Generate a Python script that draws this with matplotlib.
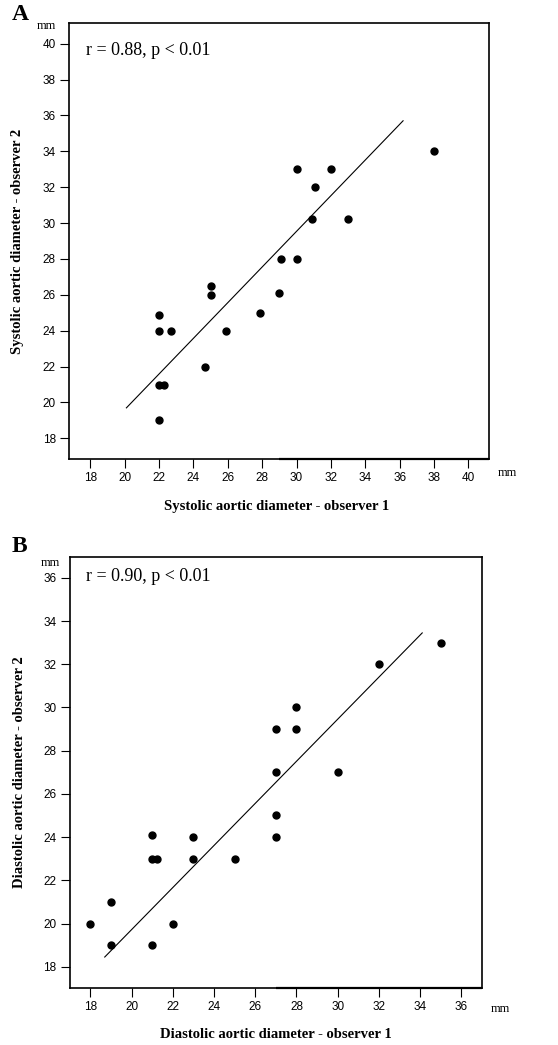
import matplotlib
matplotlib.use("Agg")
import matplotlib.pyplot as plt

# ---------------- data ----------------
sys_obs1 = [22, 22, 22.3, 22, 22, 22.7, 24.7, 25, 25, 25.9, 27.9, 29.0, 29.1, 30, 30, 31.1, 30.9, 32, 33, 38]
sys_obs2 = [19, 21, 21, 24, 24.9, 24, 22, 26, 26.5, 24, 25, 26.1, 28, 28, 33, 32, 30.2, 33, 30.2, 34]
sys_fit_x = [20.1, 36.2]
sys_fit_y = [19.7, 35.7]
sys_label = "r = 0.88, p < 0.01"
sys_ticks = [18, 20, 22, 24, 26, 28, 30, 32, 34, 36, 38, 40]

dia_obs1 = [18, 19, 19, 21, 21, 21.25, 21, 22, 23, 23, 25, 27, 27, 27, 27, 28, 28, 30, 32, 35]
dia_obs2 = [20, 21, 19, 19, 23, 23, 24.1, 20, 23, 24, 23, 24, 25, 27, 29, 29, 30, 27, 32, 33]
dia_fit_x = [18.7, 34.1]
dia_fit_y = [18.45, 33.45]
dia_label = "r = 0.90, p < 0.01"
dia_ticks = [18, 20, 22, 24, 26, 28, 30, 32, 34, 36]

# ---------------- fonts ----------------
tick_font = ["Liberation Sans", "DejaVu Sans"]
serif = ["Liberation Serif", "DejaVu Serif"]

W, H = 558, 1045
fig = plt.figure(figsize=(W / 100, H / 100), dpi=100)


def px_axes(l, t, r, b):
    return fig.add_axes([l / W, 1 - b / H, (r - l) / W, (b - t) / H])


def panel(ax, x, y, fx, fy, ticks, lim, label, label_pos):
    ax.plot(fx, fy, color="black", lw=0.8)
    ax.plot(x, y, "o", color="black", ms=5.0, mec="black")
    ax.set_xlim(*lim[0])
    ax.set_ylim(*lim[1])
    ax.set_xticks(ticks)
    ax.set_yticks(ticks)
    ax.tick_params(direction="out", length=6.5, width=0.8, pad=3, labelsize=8.5)
    for lab in ax.get_xticklabels() + ax.get_yticklabels():
        lab.set_fontfamily(tick_font)
    for s in ax.spines.values():
        s.set_linewidth(1.2)
    # slightly heavier right part of the bottom frame, as in the scan
    ax.plot([0.5, 1.0], [0, 0], transform=ax.transAxes, color="black", lw=1.6,
            clip_on=False, solid_capstyle="butt")
    ax.text(label_pos[0], label_pos[1], label, transform=ax.transAxes, ha="left", va="center",
            fontsize=13, family=serif)
    return ax


# Panel A
axA = px_axes(69, 23, 489, 459)
panel(axA, sys_obs1, sys_obs2, sys_fit_x, sys_fit_y, sys_ticks,
      ((16.76, 41.2), (16.85, 41.15)), sys_label, (0.04, 0.938))
fig.text(277 / W, 1 - 507 / H, "Systolic aortic diameter - observer 1", ha="center", va="center",
         fontsize=10.5, fontweight="bold", family=serif)
fig.text(18 / W, 1 - 241 / H, "Systolic aortic diameter - observer 2", ha="center", va="center",
         rotation=90, fontsize=10.5, fontweight="bold", family=serif)
fig.text(12 / W, 1 - 14 / H, "A", ha="left", va="center", fontsize=17, fontweight="bold", family=serif)
fig.text(46 / W, 1 - 26 / H, "mm", ha="center", va="center", fontsize=9, family=serif)
fig.text(507 / W, 1 - 473 / H, "mm", ha="center", va="center", fontsize=9, family=serif)

# Panel B
axB = px_axes(69.7, 557.3, 482, 987.7)
panel(axB, dia_obs1, dia_obs2, dia_fit_x, dia_fit_y, dia_ticks,
      ((17.0, 37.0), (17.03, 36.95)), dia_label, (0.04, 0.955))
fig.text(276 / W, 1 - 1035 / H, "Diastolic aortic diameter - observer 1", ha="center", va="center",
         fontsize=10.5, fontweight="bold", family=serif)
fig.text(20 / W, 1 - 772 / H, "Diastolic aortic diameter - observer 2", ha="center", va="center",
         rotation=90, fontsize=10.5, fontweight="bold", family=serif)
fig.text(12 / W, 1 - 547 / H, "B", ha="left", va="center", fontsize=17, fontweight="bold", family=serif)
fig.text(50 / W, 1 - 563 / H, "mm", ha="center", va="center", fontsize=9, family=serif)
fig.text(500 / W, 1 - 1009 / H, "mm", ha="center", va="center", fontsize=9, family=serif)

fig.savefig("out.png", dpi=100)
